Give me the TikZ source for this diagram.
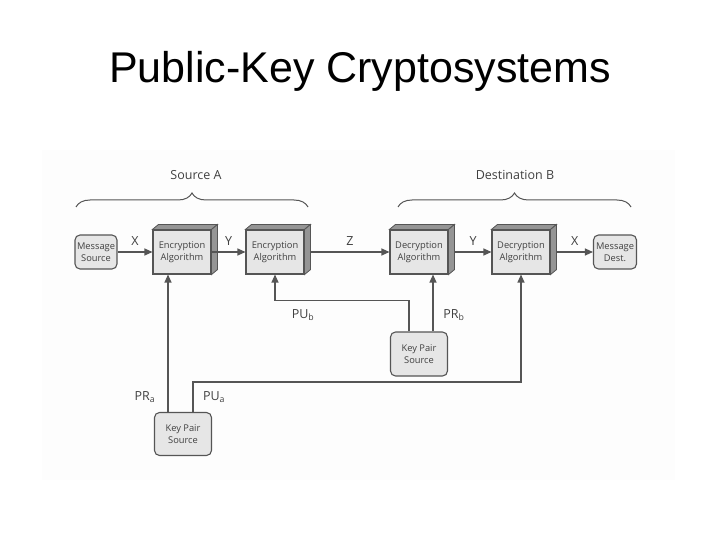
\documentclass[tikz,border=0pt]{standalone}
\usepackage{fontspec}
\setmainfont{Liberation Sans}
\newfontfamily\diafont{Open Sans}
\usetikzlibrary{arrows.meta,decorations.pathreplacing}
\definecolor{linec}{HTML}{555555}
\definecolor{boxfill}{HTML}{E6E6E6}
\definecolor{extr}{HTML}{959595}
\definecolor{txtc}{HTML}{404040}
\definecolor{bgc}{HTML}{FDFDFD}
\tikzset{
  conn/.style={draw=linec, line width=1.2pt, -{Triangle[length=8pt,width=7pt]}},
  rbox/.style={draw=linec, line width=1.1pt, fill=boxfill, rounded corners=5pt, align=center,
     inner sep=0pt, text=txtc, font=\diafont\fontsize{9.3}{11.5}\selectfont},
  algbox/.style={draw=linec, line width=1.1pt, fill=boxfill, align=center, inner sep=0pt,
     minimum width=58pt, minimum height=44pt, text=txtc, font=\diafont\fontsize{9.3}{11.5}\selectfont},
  extface/.style={draw=linec, line width=0.8pt, fill=extr},
  lbl/.style={text=txtc, font=\diafont\fontsize{12.5}{14}\selectfont},
  brlbl/.style={text=txtc, font=\diafont\fontsize{12.5}{14}\selectfont},
  bracedec/.style={draw=linec, line width=1pt, decorate, decoration={brace, amplitude=14pt}},
}
\begin{document}
\begin{tikzpicture}[x=1pt,y=-1pt]
\useasboundingbox (0,0) rectangle (720,540);
\fill[bgc] (42,150) rectangle (675,480);
\node[font=\fontsize{43}{50}\selectfont] (title) at (360,71) {Public-Key Cryptosystems};

% nodes
\node[rbox, minimum width=42pt, minimum height=34pt] (ms) at (96,252) {Message\\Source};
\node[algbox] (e1) at (182,252) {Encryption\\Algorithm};
\node[algbox] (e2) at (275,252) {Encryption\\Algorithm};
\node[algbox] (d1) at (419,252) {Decryption\\Algorithm};
\node[algbox] (d2) at (521,252) {Decryption\\Algorithm};
\node[rbox, minimum width=43pt, minimum height=34pt] (md) at (615,252) {Message\\Dest.};
\node[rbox, minimum width=57pt, minimum height=44pt] (kb) at (419,354) {Key Pair\\Source};
\node[rbox, minimum width=57pt, minimum height=43pt] (ka) at (183,434) {Key Pair\\Source};

% 3D extrusions
\foreach \n in {e1,e2,d1,d2}{
  \path[extface] (\n.north west) -- ++(6,-5) -- ([shift={(6,-5)}]\n.north east) -- (\n.north east) -- cycle;
  \path[extface] (\n.north east) -- ++(6,-5) -- ([shift={(6,-5)}]\n.south east) -- (\n.south east) -- cycle;
}

% main flow
\draw[conn] (ms) -- node[lbl, above=3pt] {X} (e1);
\draw[conn] (e1) -- node[lbl, above=3pt] {Y} (e2);
\draw[conn] ([xshift=6pt]e2.east) -- node[lbl, above=3pt] {Z} (d1);
\draw[conn] ([xshift=6pt]d1.east) -- node[lbl, above=3pt] {Y} (d2);
\draw[conn] ([xshift=6pt]d2.east) -- node[lbl, above=3pt] {X} (md);

% key pair B
\draw[conn] ([xshift=-10pt]kb.north) -- ++(0,-31) coordinate (pub) -| (e2.south);
\node[lbl] (publ) at (303,315) {PU\textsubscript{b}};
\draw[conn] ([xshift=14pt]kb.north) -- ([xshift=14pt]kb.north |- d1.south);
\node[lbl] (prbl) at (454,315) {PR\textsubscript{b}};

% key pair A
\draw[conn] ([xshift=-15pt]ka.north) -- ([xshift=-15pt]ka.north |- e1.south);
\node[lbl] (pral) at (145,397) {PR\textsubscript{a}};
\draw[conn] ([xshift=10pt]ka.north) -- ++(0,-30) coordinate (pua) -| (d2.south);
\node[lbl] (pual) at (214,397) {PU\textsubscript{a}};

% braces
\draw[bracedec] (76,207) -- (308,207);
\node[brlbl] (srcA) at (196,175) {Source A};
\draw[bracedec] (398,207) -- (631,207);
\node[brlbl] (dstB) at (515,175) {Destination B};
\end{tikzpicture}
\end{document}
